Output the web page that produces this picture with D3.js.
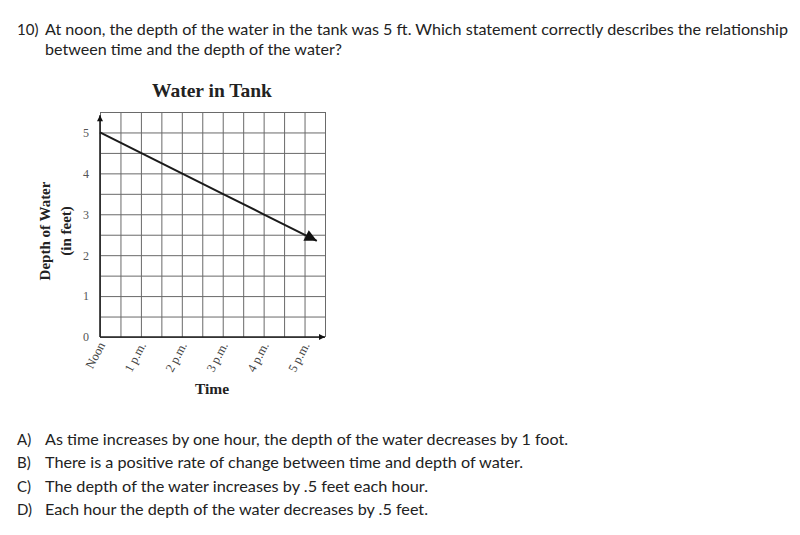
<!DOCTYPE html>
<html><head><meta charset="utf-8">
<script src="https://cdn.jsdelivr.net/npm/d3@7"></script>
<style>body{margin:0;background:#fff}svg{display:block}</style>
</head><body><div id="c"></div>
<script>
// ---- data ----
const questionLines = [
  {label:"10)", text:"At noon, the depth of the water in the tank was 5 ft. Which statement correctly describes the relationship", end:788},
  {label:"",    text:"between time and the depth of the water?", end:342}
];
const options = [
  {label:"A)", text:"As time increases by one hour, the depth of the water decreases by 1 foot.", end:568},
  {label:"B)", text:"There is a positive rate of change between time and depth of water.", end:523},
  {label:"C)", text:"The depth of the water increases by .5 feet each hour.", end:428},
  {label:"D)", text:"Each hour the depth of the water decreases by .5 feet.", end:428}
];
const chartTitle = "Water in Tank";
const xTitle = "Time";
const yTitle = ["Depth of Water", "(in feet)"];
const xHours = [0, 1, 2, 3, 4, 5];
const xLabels = ["Noon", "1 p.m.", "2 p.m.", "3 p.m.", "4 p.m.", "5 p.m."];
const yTicks = [0, 1, 2, 3, 4, 5];
const gridSteps = [0, 0.5, 1, 1.5, 2, 2.5, 3, 3.5, 4, 4.5, 5, 5.5];
const depthHours = [0, 1, 2, 3, 4, 5.3];
const depthFeet  = [5, 4.5, 4, 3.5, 3, 2.35];

// ---- layout ----
const W = 800, H = 535;
const svg = d3.select("#c").append("svg").attr("width", W).attr("height", H);
const sans = "Lato, 'Open Sans', sans-serif";
const serif = "'Liberation Serif', 'DejaVu Serif', serif";

const x = d3.scaleLinear().domain([0, 5.5]).range([100, 325]);
const y = d3.scaleLinear().domain([0, 5.5]).range([337, 112]);

// question text
questionLines.forEach((q, i) => {
  const by = 35 + i * 20;
  if (q.label) svg.append("text").attr("x", 17).attr("y", by).text(q.label)
    .attr("font-family", sans).attr("font-size", 15).attr("fill", "#222");
  svg.append("text").attr("x", 45).attr("y", by).text(q.text)
    .attr("font-family", sans).attr("font-size", 15).attr("fill", "#222")
    .attr("textLength", q.end - 45).attr("lengthAdjust", "spacingAndGlyphs");
});
options.forEach((o, i) => {
  const by = 445 + i * 23.3;
  svg.append("text").attr("x", 17).attr("y", by).text(o.label)
    .attr("font-family", sans).attr("font-size", 15).attr("fill", "#222");
  svg.append("text").attr("x", 45).attr("y", by).text(o.text)
    .attr("font-family", sans).attr("font-size", 15).attr("fill", "#222")
    .attr("textLength", o.end - 45).attr("lengthAdjust", "spacingAndGlyphs");
});

// markers
const defs = svg.append("defs");
defs.append("marker").attr("id", "arrowLine").attr("viewBox", "0 0 10 10")
  .attr("refX", 10).attr("refY", 5).attr("markerWidth", 8.5).attr("markerHeight", 6)
  .attr("markerUnits", "strokeWidth").attr("orient", "auto")
  .append("path").attr("d", "M0,0 L10,5 L0,10 Z").attr("fill", "#111");
defs.append("marker").attr("id", "arrowAxis").attr("viewBox", "0 0 10 10")
  .attr("refX", 10).attr("refY", 5).attr("markerWidth", 9).attr("markerHeight", 6)
  .attr("markerUnits", "userSpaceOnUse").attr("orient", "auto")
  .append("path").attr("d", "M0,0 L10,5 L0,10 Z").attr("fill", "#111");

// grid
const gx = svg.append("g").attr("transform", `translate(0,${y(0)})`)
  .call(d3.axisBottom(x).tickValues(gridSteps).tickSize(-(y(0) - y(5.5))).tickFormat(""));
gx.select(".domain").remove();
gx.selectAll("line").attr("stroke", "#6a6a6a").attr("stroke-width", 1);
const gy = svg.append("g").attr("transform", `translate(${x(0)},0)`)
  .call(d3.axisLeft(y).tickValues(gridSteps).tickSize(-(x(5.5) - x(0))).tickFormat(""));
gy.select(".domain").remove();
gy.selectAll("line").attr("stroke", "#6a6a6a").attr("stroke-width", 1);

// axes with arrows
svg.append("line").attr("x1", x(0)).attr("y1", y(0)).attr("x2", x(5.5)).attr("y2", y(0))
  .attr("stroke", "#222").attr("stroke-width", 1.6).attr("marker-end", "url(#arrowAxis)");
svg.append("line").attr("x1", x(0)).attr("y1", y(0)).attr("x2", x(0)).attr("y2", y(5.42))
  .attr("stroke", "#222").attr("stroke-width", 1.6).attr("marker-end", "url(#arrowAxis)");

// y tick labels
const ya = svg.append("g").attr("transform", `translate(${x(0) - 6},0)`)
  .call(d3.axisLeft(y).tickValues(yTicks).tickSize(0).tickFormat(d3.format("d")));
ya.select(".domain").remove();
ya.selectAll("text").attr("font-family", serif).attr("font-size", 12).attr("fill", "#555")
  .attr("dx", "-2");

// x tick labels
const xa = svg.append("g").attr("transform", `translate(0,${y(0)})`)
  .call(d3.axisBottom(x).tickValues(xHours).tickSize(0).tickFormat((d, i) => xLabels[i]));
xa.select(".domain").remove();
xa.selectAll("text").attr("font-family", serif).attr("font-size", 12.5).attr("fill", "#444")
  .attr("text-anchor", "end").attr("dy", null).attr("y", 0)
  .attr("transform", "translate(5,8) rotate(-62)");

// depth line
const pts = depthHours.map((h, i) => [h, depthFeet[i]]);
svg.append("path").datum(pts)
  .attr("d", d3.line().x(d => x(d[0])).y(d => y(d[1])))
  .attr("fill", "none").attr("stroke", "#1a1a1a").attr("stroke-width", 2)
  .attr("marker-end", "url(#arrowLine)");

// titles
svg.append("text").attr("x", 212).attr("y", 97).attr("text-anchor", "middle")
  .attr("font-family", serif).attr("font-weight", "bold").attr("font-size", 19.5).attr("fill", "#222")
  .text(chartTitle);
svg.append("text").attr("x", 212).attr("y", 394).attr("text-anchor", "middle")
  .attr("font-family", serif).attr("font-weight", "bold").attr("font-size", 15.5).attr("fill", "#222")
  .text(xTitle);
yTitle.forEach((t, i) => {
  svg.append("text").attr("transform", `translate(${50 + i * 21},231) rotate(-90)`)
    .attr("text-anchor", "middle").attr("font-family", serif).attr("font-weight", "bold")
    .attr("font-size", 15).attr("fill", "#222").text(t);
});
</script></body></html>
